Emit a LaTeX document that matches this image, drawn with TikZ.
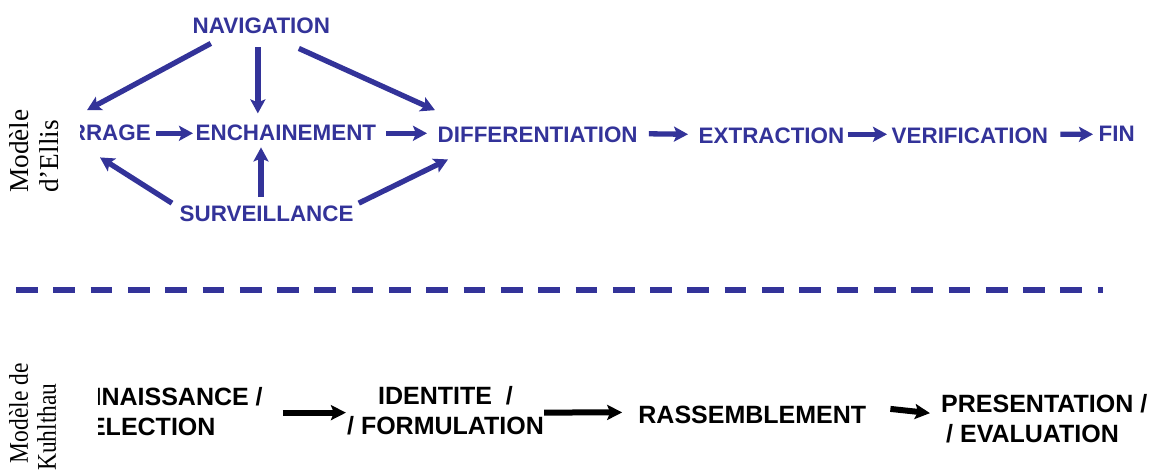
\documentclass[tikz,border=0pt]{standalone}
\usepackage{fontspec}
\setmainfont{Liberation Sans}
\newfontfamily\labelserif{Liberation Serif}
\usetikzlibrary{arrows.meta,calc}
\definecolor{ellisblue}{RGB}{51,51,153}
\begin{document}
\begin{tikzpicture}[x=1pt,y=-1pt,
  bluetext/.style={inner sep=0pt,text=ellisblue,font=\fontsize{22.4}{26}\selectfont\bfseries},
  blacktext/.style={inner sep=0pt,text=black,font=\fontsize{25}{30}\selectfont\bfseries},
  modlabel/.style={inner sep=0pt,rotate=90,anchor=north west,align=left,
    font=\labelserif\fontsize{27.3}{30}\selectfont},
  bluearrow/.style={color=ellisblue,line width=5.3pt,
    -{Stealth[length=14pt,width=15pt,inset=3pt]}},
  blackarrow/.style={color=black,line width=6pt,
    -{Stealth[length=15pt,width=15pt,inset=3pt]}},
  dashline/.style={color=ellisblue,line width=5.4pt,dash pattern=on 21.7pt off 15.6pt}
]
\useasboundingbox (0,0) rectangle (1158,471);

% side labels
\node[modlabel] (ellis) at (9,193) {Modèle\\d’Ellis};
\node[modlabel,xscale=0.87,font=\labelserif\fontsize{27}{28}\selectfont] (kuhl) at (9,471) {\hspace*{9pt}Modèle de\\Kuhlthau};

% Ellis model
\begin{scope}
  \clip (80,0) rectangle (1158,471);
  \node[bluetext,anchor=base east] (rage) at (151,140) {DEMARRAGE};
\end{scope}
\node[bluetext,anchor=base west] (ench)  at (195.5,140)  {ENCHAINEMENT};
\node[bluetext,anchor=base west] (diff)  at (437.5,142.5) {DIFFERENTIATION};
\node[bluetext,anchor=base west] (extr)  at (698.5,143)  {EXTRACTION};
\node[bluetext,anchor=base west] (verif) at (891.5,143)  {VERIFICATION};
\node[bluetext,anchor=base west] (fin)   at (1098.5,141) {FIN};
\node[bluetext,anchor=base west] (nav)   at (192.5,33)   {NAVIGATION};
\node[bluetext,anchor=base west] (surv)  at (179.5,221.5) {SURVEILLANCE};

\draw[bluearrow] ($(rage.east)+(5,1)$) -- ($(ench.west)+(-2.5,1)$);
\draw[bluearrow] ($(ench.east)+(10,1)$) -- ($(diff.west)+(-10.5,-1.5)$);
\draw[bluearrow] ($(diff.east)+(11,-1)$) -- ($(extr.west)+(-10.5,-1)$);
\draw[bluearrow] ($(extr.east)+(3,-1)$) -- ($(verif.west)+(-4.5,-1)$);
\draw[bluearrow] ($(verif.east)+(12,-1)$) -- ($(fin.west)+(-5.5,1)$);

\draw[bluearrow] ($(nav.south)+(-50.5,10)$) -- ($(rage.north east)+(-64,-14)$);
\draw[bluearrow] ($(nav.south)+(-3.5,14)$) -- ($(nav.south)+(-3.5,80)$);
\draw[bluearrow] ($(nav.south)+(37.5,15)$) -- ($(diff.north west)+(-2.5,-16.5)$);

\draw[bluearrow] ($(surv.north west)+(-7.5,-2.5)$) -- ($(rage.south east)+(-51,17)$);
\draw[bluearrow] ($(surv.north west)+(81.5,-8.5)$) -- ($(ench.south west)+(65.5,7)$);
\draw[bluearrow] ($(surv.north east)+(5,-2.5)$) -- ($(diff.south west)+(10.5,16.5)$);

% separator
\coordinate (dashL) at (16,290);
\coordinate (dashR) at (1103.4,290);
\draw[dashline] (dashL) -- (dashR);

% Kuhlthau model
\begin{scope}
  \clip (98,0) rectangle (1158,471);
  \node[blacktext,align=center] (reco) at (137,411.65) {RECONNAISSANCE /\\/ SELECTION};
\end{scope}
\node[blacktext,align=center] (iden) at (445.5,411.15) {IDENTITE\ \ /\\/ FORMULATION};
\node[blacktext,anchor=base west] (rass) at (638.2,423) {RASSEMBLEMENT};
\node[blacktext,align=left,anchor=west] (pres) at (941,419.15) {PRESENTATION /\\\hspace*{5pt}/ EVALUATION};

\draw[blackarrow] ($(reco.east)+(20,1)$) -- ($(iden.west)+(-1,1.5)$);
\draw[blackarrow] ($(iden.east)+(0,1.4)$) -- ($(rass.west)+(-16,-2)$);
\draw[blackarrow] ($(rass.east)+(24,-5.5)$) -- ($(pres.west)+(-11,-6)$);
\end{tikzpicture}
\end{document}
